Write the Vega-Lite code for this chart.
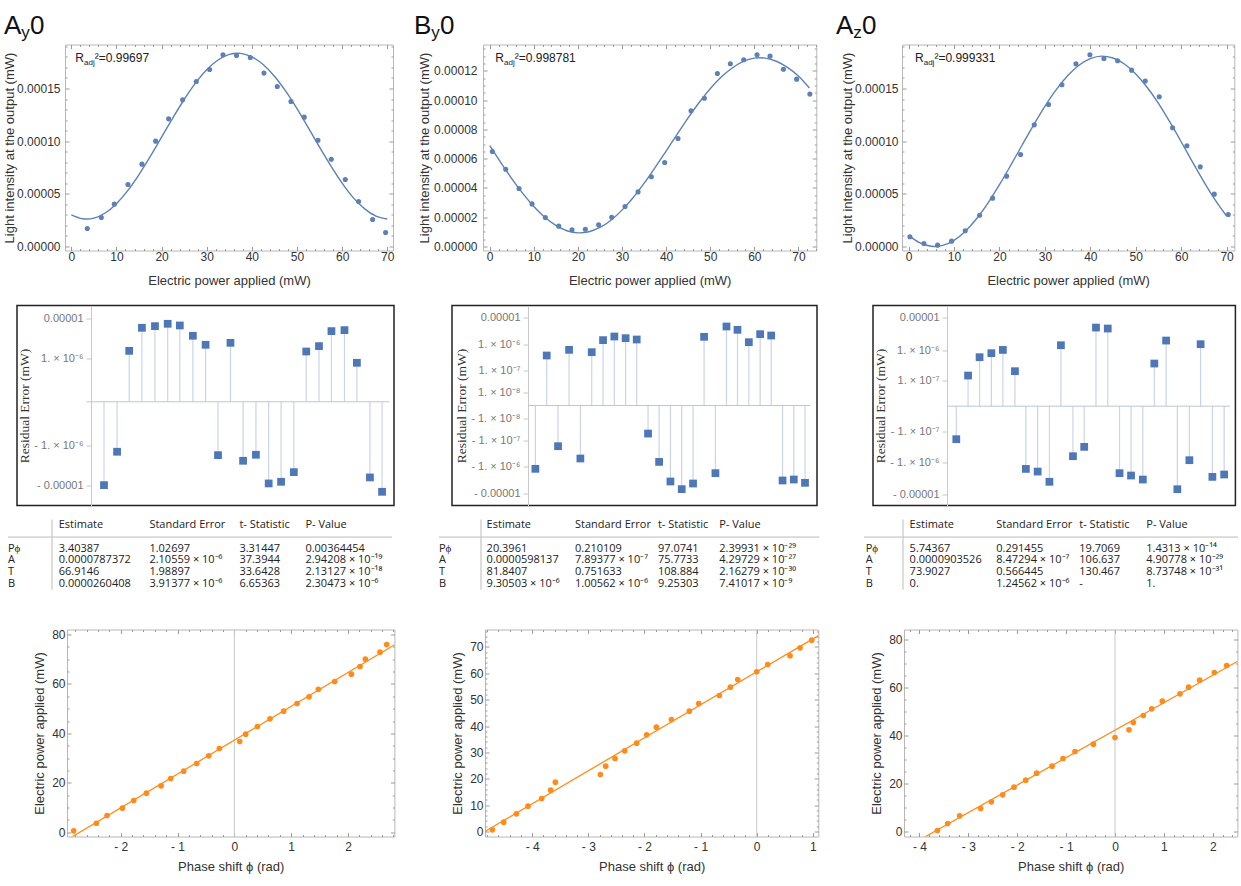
{
  "$schema": "https://vega.github.io/schema/vega-lite/v6.json",
  "background": "white",
  "autosize": {"type": "pad"},
  "padding": {"left": 3, "top": 12.5, "right": 0, "bottom": 0},
  "config": {
    "font": "Liberation Sans",
    "view": {"stroke": null},
    "axis": {"grid": false, "domain": false, "labelOverlap": false, "tickCount": 60, "labelFontSize": 12, "labelColor": "#333333", "titleFontSize": 13, "titleFontWeight": "normal", "titleColor": "#333333", "tickColor": "#9a9a9a", "tickSize": -4, "tickWidth": 1}
  },
  "datasets": {
    "fitA": [
      {"power": 3.54, "intensity": 1.709e-5, "residual": -1.0e-5},
      {"power": 6.65, "intensity": 2.753e-5, "residual": -1.49e-6},
      {"power": 9.53, "intensity": 4.019e-5, "residual": 1.58e-6},
      {"power": 12.55, "intensity": 5.886e-5, "residual": 5.92e-6},
      {"power": 15.65, "intensity": 7.816e-5, "residual": 6.5e-6},
      {"power": 18.68, "intensity": 1.0e-4, "residual": 7.42e-6},
      {"power": 21.56, "intensity": 1.212e-4, "residual": 6.75e-6},
      {"power": 24.66, "intensity": 1.392e-4, "residual": 3.77e-6},
      {"power": 27.69, "intensity": 1.566e-4, "residual": 2.25e-6},
      {"power": 30.64, "intensity": 1.68e-4, "residual": -1.82e-6},
      {"power": 33.6, "intensity": 1.82e-4, "residual": 2.52e-6},
      {"power": 36.6, "intensity": 1.813e-4, "residual": -2.52e-6},
      {"power": 39.65, "intensity": 1.794e-4, "residual": -1.78e-6},
      {"power": 42.68, "intensity": 1.646e-4, "residual": -9.1e-6},
      {"power": 45.63, "intensity": 1.519e-4, "residual": -8.29e-6},
      {"power": 48.66, "intensity": 1.377e-4, "residual": -4.82e-6},
      {"power": 51.61, "intensity": 1.228e-4, "residual": 1.52e-6},
      {"power": 54.64, "intensity": 1.009e-4, "residual": 2.08e-6},
      {"power": 57.6, "intensity": 8.29e-5, "residual": 4.91e-6},
      {"power": 60.7, "intensity": 6.36e-5, "residual": 5.19e-6},
      {"power": 63.65, "intensity": 4.27e-5, "residual": 7.67e-7},
      {"power": 66.75, "intensity": 2.56e-5, "residual": -6.5e-6},
      {"power": 69.63, "intensity": 1.33e-5, "residual": -1.45e-5}
    ],
    "curveA": [
      {"power": 0, "intensity": 3.003e-5}, {"power": 2.5, "intensity": 2.632e-5}, {"power": 3.4, "intensity": 2.604e-5},
      {"power": 5, "intensity": 2.692e-5}, {"power": 7.5, "intensity": 3.18e-5}, {"power": 10, "intensity": 4.067e-5},
      {"power": 12.5, "intensity": 5.306e-5}, {"power": 15, "intensity": 6.833e-5}, {"power": 17.5, "intensity": 8.55e-5},
      {"power": 20, "intensity": 1.038e-4}, {"power": 22.5, "intensity": 1.2214e-4}, {"power": 25, "intensity": 1.3956e-4},
      {"power": 27.5, "intensity": 1.5503e-4}, {"power": 30, "intensity": 1.6775e-4}, {"power": 32.5, "intensity": 1.7702e-4},
      {"power": 35, "intensity": 1.8236e-4}, {"power": 36.86, "intensity": 1.8352e-4}, {"power": 37.5, "intensity": 1.8337e-4},
      {"power": 40, "intensity": 1.8003e-4}, {"power": 42.5, "intensity": 1.7273e-4}, {"power": 45, "intensity": 1.6164e-4},
      {"power": 47.5, "intensity": 1.475e-4}, {"power": 50, "intensity": 1.3096e-4}, {"power": 52.5, "intensity": 1.1287e-4},
      {"power": 55, "intensity": 9.433e-5}, {"power": 57.5, "intensity": 7.657e-5}, {"power": 60, "intensity": 6.02e-5},
      {"power": 62.5, "intensity": 4.617e-5}, {"power": 65, "intensity": 3.57e-5}, {"power": 67.5, "intensity": 2.88e-5},
      {"power": 70, "intensity": 2.606e-5}
    ],
    "fitB": [
      {"power": 0.6, "intensity": 6.49e-5, "residual": -1.18e-6},
      {"power": 3.63, "intensity": 5.28e-5, "residual": 3.7e-7},
      {"power": 6.65, "intensity": 3.96e-5, "residual": -1.63e-7},
      {"power": 9.6, "intensity": 2.91e-5, "residual": 6.07e-7},
      {"power": 12.62, "intensity": 1.98e-5, "residual": -4.81e-7},
      {"power": 15.65, "intensity": 1.39e-5, "residual": 4.95e-7},
      {"power": 18.67, "intensity": 1.14e-5, "residual": 1.41e-6},
      {"power": 21.69, "intensity": 1.18e-5, "residual": 1.93e-6},
      {"power": 24.7, "intensity": 1.48e-5, "residual": 1.67e-6},
      {"power": 27.66, "intensity": 2.0e-5, "residual": 1.49e-6},
      {"power": 30.69, "intensity": 2.73e-5, "residual": -5.15e-8},
      {"power": 33.64, "intensity": 3.73e-5, "residual": -6.48e-7},
      {"power": 36.66, "intensity": 4.76e-5, "residual": -3.54e-6},
      {"power": 39.68, "intensity": 5.74e-5, "residual": -6.86e-6},
      {"power": 42.7, "intensity": 7.38e-5, "residual": -4.21e-6},
      {"power": 45.65, "intensity": 9.27e-5, "residual": 1.88e-6},
      {"power": 48.68, "intensity": 1.013e-4, "residual": -1.72e-6},
      {"power": 51.63, "intensity": 1.182e-4, "residual": 4.59e-6},
      {"power": 54.57, "intensity": 1.248e-4, "residual": 3.44e-6},
      {"power": 57.6, "intensity": 1.275e-4, "residual": 1.18e-6},
      {"power": 60.62, "intensity": 1.309e-4, "residual": 2.36e-6},
      {"power": 63.57, "intensity": 1.3e-4, "residual": 2.1e-6},
      {"power": 66.6, "intensity": 1.211e-4, "residual": -3.24e-6},
      {"power": 69.6, "intensity": 1.143e-4, "residual": -2.98e-6},
      {"power": 72.6, "intensity": 1.041e-4, "residual": -3.97e-6}
    ],
    "curveB": [
      {"power": 0, "intensity": 6.882e-5}, {"power": 2.5, "intensity": 5.742e-5}, {"power": 5, "intensity": 4.64e-5},
      {"power": 7.5, "intensity": 3.63e-5}, {"power": 10, "intensity": 2.736e-5}, {"power": 12.5, "intensity": 1.996e-5},
      {"power": 15, "intensity": 1.437e-5}, {"power": 17.5, "intensity": 1.078e-5}, {"power": 20, "intensity": 9.33e-6},
      {"power": 20.4, "intensity": 9.31e-6}, {"power": 22.5, "intensity": 1.009e-5}, {"power": 25, "intensity": 1.3e-5},
      {"power": 27.5, "intensity": 1.798e-5}, {"power": 30, "intensity": 2.484e-5}, {"power": 32.5, "intensity": 3.332e-5},
      {"power": 35, "intensity": 4.311e-5}, {"power": 37.5, "intensity": 5.387e-5}, {"power": 40, "intensity": 6.519e-5},
      {"power": 42.5, "intensity": 7.664e-5}, {"power": 45, "intensity": 8.786e-5}, {"power": 47.5, "intensity": 9.833e-5},
      {"power": 50, "intensity": 1.0778e-4}, {"power": 52.5, "intensity": 1.1574e-4}, {"power": 55, "intensity": 1.2193e-4},
      {"power": 57.5, "intensity": 1.2638e-4}, {"power": 60, "intensity": 1.2863e-4}, {"power": 61.3, "intensity": 1.2893e-4},
      {"power": 62.5, "intensity": 1.2868e-4}, {"power": 65, "intensity": 1.2653e-4}, {"power": 67.5, "intensity": 1.2232e-4},
      {"power": 70, "intensity": 1.1645e-4}, {"power": 72.5, "intensity": 1.0822e-4}
    ],
    "fitAz": [
      {"power": 0.29, "intensity": 9.2e-6, "residual": -1.84e-7},
      {"power": 3.37, "intensity": 2.8e-6, "residual": 1.53e-7},
      {"power": 6.38, "intensity": 1.3e-6, "residual": 6.09e-7},
      {"power": 9.46, "intensity": 5.1e-6, "residual": 8.14e-7},
      {"power": 12.47, "intensity": 1.49e-5, "residual": 1.03e-6},
      {"power": 15.63, "intensity": 2.97e-5, "residual": 2.15e-7},
      {"power": 18.49, "intensity": 4.59e-5, "residual": -1.63e-6},
      {"power": 21.57, "intensity": 6.68e-5, "residual": -1.97e-6},
      {"power": 24.65, "intensity": 8.73e-5, "residual": -4.07e-6},
      {"power": 27.66, "intensity": 1.155e-4, "residual": 1.44e-6},
      {"power": 30.81, "intensity": 1.348e-4, "residual": -6.55e-7},
      {"power": 33.75, "intensity": 1.535e-4, "residual": -3.3e-7},
      {"power": 36.83, "intensity": 1.734e-4, "residual": 5.04e-6},
      {"power": 39.91, "intensity": 1.82e-4, "residual": 4.71e-6},
      {"power": 42.99, "intensity": 1.785e-4, "residual": -2.21e-6},
      {"power": 46.0, "intensity": 1.763e-4, "residual": -2.61e-6},
      {"power": 49.08, "intensity": 1.674e-4, "residual": -3.47e-6},
      {"power": 52.09, "intensity": 1.57e-4, "residual": 3.83e-7},
      {"power": 55.17, "intensity": 1.421e-4, "residual": 2.01e-6},
      {"power": 58.11, "intensity": 1.127e-4, "residual": -6.87e-6},
      {"power": 61.26, "intensity": 9.56e-5, "residual": -8.74e-7},
      {"power": 64.2, "intensity": 7.56e-5, "residual": 1.55e-6},
      {"power": 67.28, "intensity": 4.97e-5, "residual": -2.87e-6},
      {"power": 70.36, "intensity": 3.04e-5, "residual": -2.43e-6}
    ],
    "curveAz": [
      {"power": 0, "intensity": 1.056e-5}, {"power": 2.5, "intensity": 3.414e-6}, {"power": 5, "intensity": 1.81e-7},
      {"power": 5.74, "intensity": 0}, {"power": 7.5, "intensity": 1.006e-6}, {"power": 10, "intensity": 5.851e-6},
      {"power": 12.5, "intensity": 1.4503e-5}, {"power": 15, "intensity": 2.6565e-5}, {"power": 17.5, "intensity": 4.1499e-5},
      {"power": 20, "intensity": 5.8649e-5}, {"power": 22.5, "intensity": 7.7203e-5}, {"power": 25, "intensity": 9.6345e-5},
      {"power": 27.5, "intensity": 1.15237e-4}, {"power": 30, "intensity": 1.3301e-4}, {"power": 32.5, "intensity": 1.48857e-4},
      {"power": 35, "intensity": 1.62077e-4}, {"power": 37.5, "intensity": 1.72032e-4}, {"power": 40, "intensity": 1.78298e-4},
      {"power": 42.5, "intensity": 1.80693e-4}, {"power": 45, "intensity": 1.7897e-4}, {"power": 47.5, "intensity": 1.73254e-4},
      {"power": 50, "intensity": 1.6384e-4}, {"power": 52.5, "intensity": 1.51175e-4}, {"power": 55, "intensity": 1.35866e-4},
      {"power": 57.5, "intensity": 1.18214e-4}, {"power": 60, "intensity": 9.9424e-5}, {"power": 62.5, "intensity": 8.0115e-5},
      {"power": 65, "intensity": 6.1415e-5}, {"power": 67.5, "intensity": 4.4077e-5}, {"power": 70, "intensity": 2.8952e-5}
    ],
    "tabA": [
      {"param": "hdr", "est": "Estimate", "se": "Standard Error", "t": "t- Statistic", "p": "P- Value"},
      {"param": "Pϕ", "est": "3.40387", "se": "1.02697", "t": "3.31447", "p": "0.00364454"},
      {"param": "A", "est": "0.0000787372", "se": "2.10559 × 10⁻⁶", "t": "37.3944", "p": "2.94208 × 10⁻¹⁹"},
      {"param": "T", "est": "66.9146", "se": "1.98897", "t": "33.6428", "p": "2.13127 × 10⁻¹⁸"},
      {"param": "B", "est": "0.0000260408", "se": "3.91377 × 10⁻⁶", "t": "6.65363", "p": "2.30473 × 10⁻⁶"}
    ],
    "tabB": [
      {"param": "hdr", "est": "Estimate", "se": "Standard Error", "t": "t- Statistic", "p": "P- Value"},
      {"param": "Pϕ", "est": "20.3961", "se": "0.210109", "t": "97.0741", "p": "2.39931 × 10⁻²⁹"},
      {"param": "A", "est": "0.0000598137", "se": "7.89377 × 10⁻⁷", "t": "75.7733", "p": "4.29729 × 10⁻²⁷"},
      {"param": "T", "est": "81.8407", "se": "0.751633", "t": "108.884", "p": "2.16279 × 10⁻³⁰"},
      {"param": "B", "est": "9.30503 × 10⁻⁶", "se": "1.00562 × 10⁻⁶", "t": "9.25303", "p": "7.41017 × 10⁻⁹"}
    ],
    "tabAz": [
      {"param": "hdr", "est": "Estimate", "se": "Standard Error", "t": "t- Statistic", "p": "P- Value"},
      {"param": "Pϕ", "est": "5.74367", "se": "0.291455", "t": "19.7069", "p": "1.4313 × 10⁻¹⁴"},
      {"param": "A", "est": "0.0000903526", "se": "8.47294 × 10⁻⁷", "t": "106.637", "p": "4.90778 × 10⁻²⁹"},
      {"param": "T", "est": "73.9027", "se": "0.566445", "t": "130.467", "p": "8.73748 × 10⁻³¹"},
      {"param": "B", "est": "0.", "se": "1.24562 × 10⁻⁶", "t": "-", "p": "1."}
    ],
    "phA": [
      {"phase": -2.827, "power": 0.54}, {"phase": -2.428, "power": 3.64}, {"phase": -2.24, "power": 6.75},
      {"phase": -1.971, "power": 9.72}, {"phase": -1.771, "power": 12.82}, {"phase": -1.548, "power": 15.79},
      {"phase": -1.29, "power": 18.76}, {"phase": -1.12, "power": 21.73}, {"phase": -0.891, "power": 24.7},
      {"phase": -0.663, "power": 27.8}, {"phase": -0.452, "power": 30.9}, {"phase": -0.264, "power": 33.87},
      {"phase": 0.094, "power": 36.71}, {"phase": 0.199, "power": 39.68}, {"phase": 0.405, "power": 42.78},
      {"phase": 0.628, "power": 45.88}, {"phase": 0.868, "power": 48.99}, {"phase": 1.103, "power": 52.09},
      {"phase": 1.314, "power": 54.79}, {"phase": 1.478, "power": 57.89}, {"phase": 1.765, "power": 61.0},
      {"phase": 2.059, "power": 63.97}, {"phase": 2.211, "power": 67.07}, {"phase": 2.305, "power": 70.04},
      {"phase": 2.563, "power": 72.87}, {"phase": 2.68, "power": 75.98}
    ],
    "lineA": [{"phase": -2.95, "power": -3.16}, {"phase": 2.82, "power": 75.88}],
    "phB": [
      {"phase": -4.709, "power": 0.63}, {"phase": -4.507, "power": 3.54}, {"phase": -4.281, "power": 6.7},
      {"phase": -4.074, "power": 9.61}, {"phase": -3.83, "power": 12.52}, {"phase": -3.67, "power": 15.68},
      {"phase": -3.587, "power": 18.71}, {"phase": -2.785, "power": 21.62}, {"phase": -2.69, "power": 24.78},
      {"phase": -2.524, "power": 27.69}, {"phase": -2.352, "power": 30.59}, {"phase": -2.138, "power": 33.5},
      {"phase": -1.96, "power": 36.66}, {"phase": -1.787, "power": 39.57}, {"phase": -1.52, "power": 42.48},
      {"phase": -1.2, "power": 45.64}, {"phase": -1.033, "power": 48.55}, {"phase": -0.665, "power": 51.58},
      {"phase": -0.469, "power": 54.74}, {"phase": -0.338, "power": 57.65}, {"phase": 0.0, "power": 60.56},
      {"phase": 0.196, "power": 63.34}, {"phase": 0.594, "power": 66.63}, {"phase": 0.772, "power": 69.66},
      {"phase": 0.98, "power": 72.57}
    ],
    "lineB": [{"phase": -4.84, "power": 0.0}, {"phase": 1.1, "power": 74.3}],
    "phAz": [
      {"phase": -3.633, "power": 0.42}, {"phase": -3.422, "power": 3.33}, {"phase": -3.177, "power": 6.53},
      {"phase": -2.747, "power": 9.58}, {"phase": -2.529, "power": 12.36}, {"phase": -2.297, "power": 15.28},
      {"phase": -2.065, "power": 18.47}, {"phase": -1.827, "power": 21.39}, {"phase": -1.602, "power": 24.31},
      {"phase": -1.288, "power": 27.22}, {"phase": -1.063, "power": 30.42}, {"phase": -0.818, "power": 33.33},
      {"phase": -0.443, "power": 36.39}, {"phase": 0.0, "power": 39.17}, {"phase": 0.286, "power": 42.36},
      {"phase": 0.375, "power": 45.42}, {"phase": 0.579, "power": 48.33}, {"phase": 0.75, "power": 51.11},
      {"phase": 0.968, "power": 54.31}, {"phase": 1.329, "power": 57.36}, {"phase": 1.506, "power": 60.14},
      {"phase": 1.731, "power": 63.06}, {"phase": 2.031, "power": 66.25}, {"phase": 2.284, "power": 69.17}
    ],
    "lineAz": [{"phase": -3.9, "power": -2.4}, {"phase": 2.5, "power": 70.83}]
  },
  "spacing": 0,
  "bounds": "full",
  "vconcat": [
    {
      "spacing": 0,
      "bounds": "flush",
      "hconcat": [
        {"width": 57, "height": 260, "data": {"values": []}, "mark": "point", "view": {"stroke": null}},
        {
          "width": 328, "height": 206, "view": {"stroke": "#b8b8b8"},
          "resolve": {"axis": {"x": "independent", "y": "independent"}},
          "layer": [
            {"data": {"name": "curveA"}, "mark": {"type": "line", "color": "#5E81B5", "strokeWidth": 1.4, "interpolate": "monotone"},
             "encoding": {
               "x": {"field": "power", "type": "quantitative", "scale": {"domain": [-1.4, 71.27], "nice": false, "zero": false},
                     "axis": {"values": [0, 2, 4, 6, 8, 10, 12, 14, 16, 18, 20, 22, 24, 26, 28, 30, 32, 34, 36, 38, 40, 42, 44, 46, 48, 50, 52, 54, 56, 58, 60, 62, 64, 66, 68, 70],
                              "labelExpr": "datum.value % 10 === 0 ? datum.label : ''", "tickSize": {"condition": {"test": "datum.value % 10 === 0", "value": -4}, "value": -2},
                              "title": "Electric power applied (mW)", "labelPadding": 5, "titlePadding": 10}},
               "y": {"field": "intensity", "type": "quantitative", "scale": {"domain": [-0.0000038, 0.00019177], "nice": false, "zero": false},
                     "axis": {"values": [0, 0.00001, 0.00002, 0.00003, 0.00004, 0.00005, 0.00006, 0.00007, 0.00008, 0.00009, 0.0001, 0.00011, 0.00012, 0.00013, 0.00014, 0.00015, 0.00016, 0.00017, 0.00018, 0.00019],
                              "format": ".5f", "labelExpr": "round(datum.value * 100000) % 5 === 0 ? datum.label : ''", "tickSize": {"condition": {"test": "round(datum.value * 100000) % 5 === 0", "value": -4}, "value": -2},
                              "title": "Light intensity at the output (mW)", "labelPadding": 9, "titlePadding": 0}}}},
            {"data": {"name": "fitA"}, "mark": {"type": "circle", "size": 26, "color": "#5E81B5", "opacity": 1},
             "encoding": {"x": {"field": "power", "type": "quantitative", "axis": null}, "y": {"field": "intensity", "type": "quantitative", "axis": null}}},
            {"data": {"values": [{"r": "R", "sub": "adj", "rest": "²=0.99697"}]},
             "encoding": {"x": {"datum": 0.886, "type": "quantitative", "axis": null}, "y": {"datum": 0.00017535, "type": "quantitative", "axis": null}},
             "layer": [
               {"mark": {"type": "text", "align": "left", "baseline": "alphabetic", "fontSize": 12, "color": "#222222"}, "encoding": {"text": {"field": "r"}}},
               {"mark": {"type": "text", "align": "left", "baseline": "alphabetic", "fontSize": 8, "dx": 8.7, "dy": 3, "color": "#222222"}, "encoding": {"text": {"field": "sub"}}},
               {"mark": {"type": "text", "align": "left", "baseline": "alphabetic", "fontSize": 12, "dx": 19.4, "color": "#222222"}, "encoding": {"text": {"field": "rest"}}}
             ]},
            {"data": {"values": [{"main": "A", "sub": "y", "tail": "0"}]},
             "encoding": {"x": {"datum": -14.91, "type": "quantitative", "axis": null}, "y": {"datum": 0.00020155, "type": "quantitative", "axis": null}},
             "layer": [
               {"mark": {"type": "text", "align": "left", "baseline": "alphabetic", "fontSize": 26, "color": "#111111"}, "encoding": {"text": {"field": "main"}}},
               {"mark": {"type": "text", "align": "left", "baseline": "alphabetic", "fontSize": 17, "dx": 17.3, "dy": 4, "color": "#111111"}, "encoding": {"text": {"field": "sub"}}},
               {"mark": {"type": "text", "align": "left", "baseline": "alphabetic", "fontSize": 26, "dx": 26, "color": "#111111"}, "encoding": {"text": {"field": "tail"}}}
             ]},
            {"data": {"values": [{}]}, "mark": {"type": "point", "opacity": 0},
             "encoding": {
               "x": {"datum": 0, "type": "quantitative", "axis": {"orient": "top", "labels": false, "title": null,
                     "values": [0, 2, 4, 6, 8, 10, 12, 14, 16, 18, 20, 22, 24, 26, 28, 30, 32, 34, 36, 38, 40, 42, 44, 46, 48, 50, 52, 54, 56, 58, 60, 62, 64, 66, 68, 70],
                     "tickSize": {"condition": {"test": "datum.value % 10 === 0", "value": -4}, "value": -2}}},
               "y": {"datum": 0, "type": "quantitative", "axis": {"orient": "right", "labels": false, "title": null,
                     "values": [0, 0.00001, 0.00002, 0.00003, 0.00004, 0.00005, 0.00006, 0.00007, 0.00008, 0.00009, 0.0001, 0.00011, 0.00012, 0.00013, 0.00014, 0.00015, 0.00016, 0.00017, 0.00018, 0.00019],
                     "tickSize": {"condition": {"test": "round(datum.value * 100000) % 5 === 0", "value": -4}, "value": -2}}}}}
          ]
        },
        {"width": 90, "height": 260, "data": {"values": []}, "mark": "point", "view": {"stroke": null}},
        {
          "width": 333.3, "height": 206, "view": {"stroke": "#b8b8b8"},
          "resolve": {"axis": {"x": "independent", "y": "independent"}},
          "layer": [
            {"data": {"name": "curveB"}, "mark": {"type": "line", "color": "#5E81B5", "strokeWidth": 1.4, "interpolate": "monotone"},
             "encoding": {
               "x": {"field": "power", "type": "quantitative", "scale": {"domain": [-1.52, 74.06], "nice": false, "zero": false},
                     "axis": {"values": [0, 2, 4, 6, 8, 10, 12, 14, 16, 18, 20, 22, 24, 26, 28, 30, 32, 34, 36, 38, 40, 42, 44, 46, 48, 50, 52, 54, 56, 58, 60, 62, 64, 66, 68, 70, 72, 74],
                              "labelExpr": "datum.value % 10 === 0 ? datum.label : ''", "tickSize": {"condition": {"test": "datum.value % 10 === 0", "value": -4}, "value": -2},
                              "title": "Electric power applied (mW)", "labelPadding": 5, "titlePadding": 10}},
               "y": {"field": "intensity", "type": "quantitative", "scale": {"domain": [-0.00000273, 0.00013796], "nice": false, "zero": false},
                     "axis": {"values": [0, 0.000005, 0.00001, 0.000015, 0.00002, 0.000025, 0.00003, 0.000035, 0.00004, 0.000045, 0.00005, 0.000055, 0.00006, 0.000065, 0.00007, 0.000075, 0.00008, 0.000085, 0.00009, 0.000095, 0.0001, 0.000105, 0.00011, 0.000115, 0.00012, 0.000125, 0.00013, 0.000135],
                              "format": ".5f", "labelExpr": "round(datum.value * 200000) % 4 === 0 ? datum.label : ''", "tickSize": {"condition": {"test": "round(datum.value * 200000) % 4 === 0", "value": -4}, "value": -2},
                              "title": "Light intensity at the output (mW)", "labelPadding": 10, "titlePadding": 2}}}},
            {"data": {"name": "fitB"}, "mark": {"type": "circle", "size": 26, "color": "#5E81B5", "opacity": 1},
             "encoding": {"x": {"field": "power", "type": "quantitative", "axis": null}, "y": {"field": "intensity", "type": "quantitative", "axis": null}}},
            {"data": {"values": [{"r": "R", "sub": "adj", "rest": "²=0.998781"}]},
             "encoding": {"x": {"datum": 1.27, "type": "quantitative", "axis": null}, "y": {"datum": 0.00012615, "type": "quantitative", "axis": null}},
             "layer": [
               {"mark": {"type": "text", "align": "left", "baseline": "alphabetic", "fontSize": 12, "color": "#222222"}, "encoding": {"text": {"field": "r"}}},
               {"mark": {"type": "text", "align": "left", "baseline": "alphabetic", "fontSize": 8, "dx": 8.7, "dy": 3, "color": "#222222"}, "encoding": {"text": {"field": "sub"}}},
               {"mark": {"type": "text", "align": "left", "baseline": "alphabetic", "fontSize": 12, "dx": 19.4, "color": "#222222"}, "encoding": {"text": {"field": "rest"}}}
             ]},
            {"data": {"values": [{"main": "B", "sub": "y", "tail": "0"}]},
             "encoding": {"x": {"datum": -17.17, "type": "quantitative", "axis": null}, "y": {"datum": 0.000145, "type": "quantitative", "axis": null}},
             "layer": [
               {"mark": {"type": "text", "align": "left", "baseline": "alphabetic", "fontSize": 26, "color": "#111111"}, "encoding": {"text": {"field": "main"}}},
               {"mark": {"type": "text", "align": "left", "baseline": "alphabetic", "fontSize": 17, "dx": 17.3, "dy": 4, "color": "#111111"}, "encoding": {"text": {"field": "sub"}}},
               {"mark": {"type": "text", "align": "left", "baseline": "alphabetic", "fontSize": 26, "dx": 26, "color": "#111111"}, "encoding": {"text": {"field": "tail"}}}
             ]},
            {"data": {"values": [{}]}, "mark": {"type": "point", "opacity": 0},
             "encoding": {
               "x": {"datum": 0, "type": "quantitative", "axis": {"orient": "top", "labels": false, "title": null,
                     "values": [0, 2, 4, 6, 8, 10, 12, 14, 16, 18, 20, 22, 24, 26, 28, 30, 32, 34, 36, 38, 40, 42, 44, 46, 48, 50, 52, 54, 56, 58, 60, 62, 64, 66, 68, 70, 72, 74],
                     "tickSize": {"condition": {"test": "datum.value % 10 === 0", "value": -4}, "value": -2}}},
               "y": {"datum": 0, "type": "quantitative", "axis": {"orient": "right", "labels": false, "title": null,
                     "values": [0, 0.000005, 0.00001, 0.000015, 0.00002, 0.000025, 0.00003, 0.000035, 0.00004, 0.000045, 0.00005, 0.000055, 0.00006, 0.000065, 0.00007, 0.000075, 0.00008, 0.000085, 0.00009, 0.000095, 0.0001, 0.000105, 0.00011, 0.000115, 0.00012, 0.000125, 0.00013, 0.000135],
                     "tickSize": {"condition": {"test": "round(datum.value * 200000) % 4 === 0", "value": -4}, "value": -2}}}}}
          ]
        },
        {"width": 84.4, "height": 260, "data": {"values": []}, "mark": "point", "view": {"stroke": null}},
        {
          "width": 332.3, "height": 206, "view": {"stroke": "#b8b8b8"},
          "resolve": {"axis": {"x": "independent", "y": "independent"}},
          "layer": [
            {"data": {"name": "curveAz"}, "mark": {"type": "line", "color": "#5E81B5", "strokeWidth": 1.4, "interpolate": "monotone"},
             "encoding": {
               "x": {"field": "power", "type": "quantitative", "scale": {"domain": [-1.45, 71.69], "nice": false, "zero": false},
                     "axis": {"values": [0, 2, 4, 6, 8, 10, 12, 14, 16, 18, 20, 22, 24, 26, 28, 30, 32, 34, 36, 38, 40, 42, 44, 46, 48, 50, 52, 54, 56, 58, 60, 62, 64, 66, 68, 70],
                              "labelExpr": "datum.value % 10 === 0 ? datum.label : ''", "tickSize": {"condition": {"test": "datum.value % 10 === 0", "value": -4}, "value": -2},
                              "title": "Electric power applied (mW)", "labelPadding": 5, "titlePadding": 10}},
               "y": {"field": "intensity", "type": "quantitative", "scale": {"domain": [-0.0000038, 0.00019177], "nice": false, "zero": false},
                     "axis": {"values": [0, 0.00001, 0.00002, 0.00003, 0.00004, 0.00005, 0.00006, 0.00007, 0.00008, 0.00009, 0.0001, 0.00011, 0.00012, 0.00013, 0.00014, 0.00015, 0.00016, 0.00017, 0.00018, 0.00019],
                              "format": ".5f", "labelExpr": "round(datum.value * 100000) % 5 === 0 ? datum.label : ''", "tickSize": {"condition": {"test": "round(datum.value * 100000) % 5 === 0", "value": -4}, "value": -2},
                              "title": "Light intensity at the output (mW)", "labelPadding": 8, "titlePadding": 0}}}},
            {"data": {"name": "fitAz"}, "mark": {"type": "circle", "size": 26, "color": "#5E81B5", "opacity": 1},
             "encoding": {"x": {"field": "power", "type": "quantitative", "axis": null}, "y": {"field": "intensity", "type": "quantitative", "axis": null}}},
            {"data": {"values": [{"r": "R", "sub": "adj", "rest": "²=0.999331"}]},
             "encoding": {"x": {"datum": 1.41, "type": "quantitative", "axis": null}, "y": {"datum": 0.00017535, "type": "quantitative", "axis": null}},
             "layer": [
               {"mark": {"type": "text", "align": "left", "baseline": "alphabetic", "fontSize": 12, "color": "#222222"}, "encoding": {"text": {"field": "r"}}},
               {"mark": {"type": "text", "align": "left", "baseline": "alphabetic", "fontSize": 8, "dx": 8.7, "dy": 3, "color": "#222222"}, "encoding": {"text": {"field": "sub"}}},
               {"mark": {"type": "text", "align": "left", "baseline": "alphabetic", "fontSize": 12, "dx": 19.4, "color": "#222222"}, "encoding": {"text": {"field": "rest"}}}
             ]},
            {"data": {"values": [{"main": "A", "sub": "z", "tail": "0"}]},
             "encoding": {"x": {"datum": -15.98, "type": "quantitative", "axis": null}, "y": {"datum": 0.00020155, "type": "quantitative", "axis": null}},
             "layer": [
               {"mark": {"type": "text", "align": "left", "baseline": "alphabetic", "fontSize": 26, "color": "#111111"}, "encoding": {"text": {"field": "main"}}},
               {"mark": {"type": "text", "align": "left", "baseline": "alphabetic", "fontSize": 17, "dx": 17.3, "dy": 4, "color": "#111111"}, "encoding": {"text": {"field": "sub"}}},
               {"mark": {"type": "text", "align": "left", "baseline": "alphabetic", "fontSize": 26, "dx": 26, "color": "#111111"}, "encoding": {"text": {"field": "tail"}}}
             ]},
            {"data": {"values": [{}]}, "mark": {"type": "point", "opacity": 0},
             "encoding": {
               "x": {"datum": 0, "type": "quantitative", "axis": {"orient": "top", "labels": false, "title": null,
                     "values": [0, 2, 4, 6, 8, 10, 12, 14, 16, 18, 20, 22, 24, 26, 28, 30, 32, 34, 36, 38, 40, 42, 44, 46, 48, 50, 52, 54, 56, 58, 60, 62, 64, 66, 68, 70],
                     "tickSize": {"condition": {"test": "datum.value % 10 === 0", "value": -4}, "value": -2}}},
               "y": {"datum": 0, "type": "quantitative", "axis": {"orient": "right", "labels": false, "title": null,
                     "values": [0, 0.00001, 0.00002, 0.00003, 0.00004, 0.00005, 0.00006, 0.00007, 0.00008, 0.00009, 0.0001, 0.00011, 0.00012, 0.00013, 0.00014, 0.00015, 0.00016, 0.00017, 0.00018, 0.00019],
                     "tickSize": {"condition": {"test": "round(datum.value * 100000) % 5 === 0", "value": -4}, "value": -2}}}}}
          ]
        }
      ]
    },
    {
      "spacing": 0,
      "bounds": "flush",
      "hconcat": [
        {"width": 8.3, "height": 212.45, "data": {"values": []}, "mark": "point", "view": {"stroke": null}},
        {
          "width": 377, "height": 200, "view": {"stroke": "#222222", "strokeWidth": 1.5},
          "data": {"name": "fitA"},
          "layer": [
            {"mark": {"type": "rule", "color": "#c9d5e8", "strokeWidth": 1.2},
             "encoding": {
               "x": {"field": "power", "type": "quantitative", "scale": {"domain": [-17.14, 72.47], "nice": false, "zero": false}, "axis": null},
               "y": {"field": "residual", "type": "quantitative", "scale": {"type": "symlog", "constant": 1e-7, "domain": [-0.0000311, 0.0000206], "nice": false, "zero": false},
                     "axis": {"orient": "left", "offset": -74, "values": [0.00001, 0.000001, -0.000001, -0.00001], "labelOverlap": false,
                              "labelExpr": "(datum.value < 0 ? '- ' : '') + (abs(datum.value) > 0.000005 ? '0.00001' : '1. × 10⁻⁶')",
                              "domain": true, "domainColor": "#c8c8c8", "tickSize": 5, "tickColor": "#c8c8c8", "labelPadding": 3, "labelFontSize": 11, "labelColor": "#777777",
                              "title": "Residual Error (mW)", "titleFont": "Liberation Serif", "titleFontSize": 13.5, "titleColor": "#333333", "titlePadding": 2}},
               "y2": {"datum": 0}}},
            {"data": {"values": [{}]}, "mark": {"type": "rule", "color": "#bcc6d6", "strokeWidth": 1},
             "encoding": {"x": {"datum": -0.67, "type": "quantitative"}, "x2": {"datum": 71.4}, "y": {"datum": 0, "type": "quantitative"}}},
            {"mark": {"type": "square", "size": 60, "color": "#4D77B6", "opacity": 1},
             "encoding": {"x": {"field": "power", "type": "quantitative"}, "y": {"field": "residual", "type": "quantitative"}}}
          ]
        },
        {"width": 58, "height": 212.45, "data": {"values": []}, "mark": "point", "view": {"stroke": null}},
        {
          "width": 365, "height": 200, "view": {"stroke": "#222222", "strokeWidth": 1.5},
          "data": {"name": "fitB"},
          "layer": [
            {"mark": {"type": "rule", "color": "#c9d5e8", "strokeWidth": 1.2},
             "encoding": {
               "x": {"field": "power", "type": "quantitative", "scale": {"domain": [-21.66, 75.8], "nice": false, "zero": false}, "axis": null},
               "y": {"field": "residual", "type": "quantitative", "scale": {"type": "symlog", "constant": 5e-9, "domain": [-0.00002815, 0.00002815], "nice": false, "zero": false},
                     "axis": {"orient": "left", "offset": -76, "values": [0.00001, 0.000001, 0.0000001, 0.00000001, -0.00000001, -0.0000001, -0.000001, -0.00001], "labelOverlap": false,
                              "labelExpr": "(datum.value < 0 ? '- ' : '') + (abs(datum.value) > 0.000005 ? '0.00001' : '1. × 10' + ['⁻⁶', '⁻⁷', '⁻⁸'][round(-log(abs(datum.value)) / LN10) - 6])",
                              "domain": true, "domainColor": "#c8c8c8", "tickSize": 5, "tickColor": "#c8c8c8", "labelPadding": 3, "labelFontSize": 11, "labelColor": "#777777",
                              "title": "Residual Error (mW)", "titleFont": "Liberation Serif", "titleFontSize": 13.5, "titleColor": "#333333", "titlePadding": 2}},
               "y2": {"datum": 0}}},
            {"data": {"values": [{}]}, "mark": {"type": "rule", "color": "#bcc6d6", "strokeWidth": 1},
             "encoding": {"x": {"datum": -1.36, "type": "quantitative"}, "x2": {"datum": 74.0}, "y": {"datum": 0, "type": "quantitative"}}},
            {"mark": {"type": "square", "size": 60, "color": "#4D77B6", "opacity": 1},
             "encoding": {"x": {"field": "power", "type": "quantitative"}, "y": {"field": "residual", "type": "quantitative"}}}
          ]
        },
        {"width": 56, "height": 212.45, "data": {"values": []}, "mark": "point", "view": {"stroke": null}},
        {
          "width": 362.4, "height": 200, "view": {"stroke": "#222222", "strokeWidth": 1.5},
          "data": {"name": "fitAz"},
          "layer": [
            {"mark": {"type": "rule", "color": "#c9d5e8", "strokeWidth": 1.2},
             "encoding": {
               "x": {"field": "power", "type": "quantitative", "scale": {"domain": [-21.5, 73.3], "nice": false, "zero": false}, "axis": null},
               "y": {"field": "residual", "type": "quantitative", "scale": {"type": "symlog", "constant": 2e-8, "domain": [-0.00002166, 0.0000239], "nice": false, "zero": false},
                     "axis": {"orient": "left", "offset": -74, "values": [0.00001, 0.000001, 0.0000001, -0.0000001, -0.000001, -0.00001], "labelOverlap": false,
                              "labelExpr": "(datum.value < 0 ? '- ' : '') + (abs(datum.value) > 0.000005 ? '0.00001' : '1. × 10' + ['⁻⁶', '⁻⁷', '⁻⁸'][round(-log(abs(datum.value)) / LN10) - 6])",
                              "domain": true, "domainColor": "#c8c8c8", "tickSize": 5, "tickColor": "#c8c8c8", "labelPadding": 3, "labelFontSize": 11, "labelColor": "#777777",
                              "title": "Residual Error (mW)", "titleFont": "Liberation Serif", "titleFontSize": 13.5, "titleColor": "#333333", "titlePadding": 2}},
               "y2": {"datum": 0}}},
            {"data": {"values": [{}]}, "mark": {"type": "rule", "color": "#bcc6d6", "strokeWidth": 1},
             "encoding": {"x": {"datum": -2.17, "type": "quantitative"}, "x2": {"datum": 71.9}, "y": {"datum": 0, "type": "quantitative"}}},
            {"mark": {"type": "square", "size": 60, "color": "#4D77B6", "opacity": 1},
             "encoding": {"x": {"field": "power", "type": "quantitative"}, "y": {"field": "residual", "type": "quantitative"}}}
          ]
        }
      ]
    },
    {
      "spacing": 0,
      "bounds": "flush",
      "hconcat": [
        {
          "width": 43.3, "height": 70.2, "data": {"name": "tabA"},
          "layer": [
            {"data": {"values": [{}]}, "mark": {"type": "rule", "color": "#bbbbbb", "strokeWidth": 1},
             "encoding": {"y": {"datum": "gap", "type": "nominal", "bandPosition": 0.5, "scale": {"type": "band", "domain": ["hdr", "gap", "Pϕ", "A", "T", "B"], "paddingInner": 0, "paddingOuter": 0}, "axis": null}}},
            {"transform": [{"filter": "datum.param != 'hdr'"}],
             "mark": {"type": "text", "align": "left", "baseline": "middle", "font": "Open Sans", "fontSize": 11, "color": "#222222"},
             "encoding": {"x": {"datum": "lab", "type": "nominal", "bandPosition": 0, "scale": {"type": "band", "domain": ["lab"], "paddingInner": 0, "paddingOuter": 0}, "axis": null},
                          "y": {"field": "param", "type": "nominal", "bandPosition": 0.5}, "text": {"field": "param"}}}
          ]
        },
        {
          "width": 340, "height": 70.2, "data": {"name": "tabA"},
          "encoding": {"y": {"field": "param", "type": "nominal", "bandPosition": 0.5, "scale": {"type": "band", "domain": ["hdr", "gap", "Pϕ", "A", "T", "B"], "paddingInner": 0, "paddingOuter": 0}, "axis": null}},
          "layer": [
            {"data": {"values": [{}]}, "mark": {"type": "rule", "color": "#bbbbbb", "strokeWidth": 1},
             "encoding": {"y": {"datum": "gap", "type": "nominal", "bandPosition": 0.5}}},
            {"data": {"values": [{}]}, "mark": {"type": "rule", "color": "#bbbbbb", "strokeWidth": 1},
             "encoding": {"y": null, "x": {"datum": "est", "type": "nominal", "bandPosition": 0, "scale": {"type": "band", "domain": ["est", "se", "t", "p"], "paddingInner": 0, "paddingOuter": 0}, "axis": null}}},
            {"mark": {"type": "text", "align": "left", "baseline": "middle", "font": "Open Sans", "fontSize": 11, "color": "#222222", "dx": 6.7},
             "encoding": {"x": {"datum": "est", "type": "nominal", "bandPosition": 0}, "text": {"field": "est"}}},
            {"mark": {"type": "text", "align": "left", "baseline": "middle", "font": "Open Sans", "fontSize": 11, "color": "#222222", "dx": 12.4},
             "encoding": {"x": {"datum": "se", "type": "nominal", "bandPosition": 0}, "text": {"field": "se"}}},
            {"mark": {"type": "text", "align": "left", "baseline": "middle", "font": "Open Sans", "fontSize": 11, "color": "#222222", "dx": 17.4},
             "encoding": {"x": {"datum": "t", "type": "nominal", "bandPosition": 0}, "text": {"field": "t"}}},
            {"mark": {"type": "text", "align": "left", "baseline": "middle", "font": "Open Sans", "fontSize": 11, "color": "#222222", "dx": -1.6},
             "encoding": {"x": {"datum": "p", "type": "nominal", "bandPosition": 0}, "text": {"field": "p"}}}
          ]
        },
        {"width": 46.7, "height": 104.5, "data": {"values": []}, "mark": "point", "view": {"stroke": null}},
        {
          "width": 41.7, "height": 70.2, "data": {"name": "tabB"},
          "layer": [
            {"data": {"values": [{}]}, "mark": {"type": "rule", "color": "#bbbbbb", "strokeWidth": 1},
             "encoding": {"y": {"datum": "gap", "type": "nominal", "bandPosition": 0.5, "scale": {"type": "band", "domain": ["hdr", "gap", "Pϕ", "A", "T", "B"], "paddingInner": 0, "paddingOuter": 0}, "axis": null}}},
            {"transform": [{"filter": "datum.param != 'hdr'"}],
             "mark": {"type": "text", "align": "left", "baseline": "middle", "font": "Open Sans", "fontSize": 11, "color": "#222222"},
             "encoding": {"x": {"datum": "lab", "type": "nominal", "bandPosition": 0, "scale": {"type": "band", "domain": ["lab"], "paddingInner": 0, "paddingOuter": 0}, "axis": null},
                          "y": {"field": "param", "type": "nominal", "bandPosition": 0.5}, "text": {"field": "param"}}}
          ]
        },
        {
          "width": 338.3, "height": 70.2, "data": {"name": "tabB"},
          "encoding": {"y": {"field": "param", "type": "nominal", "bandPosition": 0.5, "scale": {"type": "band", "domain": ["hdr", "gap", "Pϕ", "A", "T", "B"], "paddingInner": 0, "paddingOuter": 0}, "axis": null}},
          "layer": [
            {"data": {"values": [{}]}, "mark": {"type": "rule", "color": "#bbbbbb", "strokeWidth": 1},
             "encoding": {"y": {"datum": "gap", "type": "nominal", "bandPosition": 0.5}}},
            {"data": {"values": [{}]}, "mark": {"type": "rule", "color": "#bbbbbb", "strokeWidth": 1},
             "encoding": {"y": null, "x": {"datum": "est", "type": "nominal", "bandPosition": 0, "scale": {"type": "band", "domain": ["est", "se", "t", "p"], "paddingInner": 0, "paddingOuter": 0}, "axis": null}}},
            {"mark": {"type": "text", "align": "left", "baseline": "middle", "font": "Open Sans", "fontSize": 11, "color": "#222222", "dx": 5.6},
             "encoding": {"x": {"datum": "est", "type": "nominal", "bandPosition": 0}, "text": {"field": "est"}}},
            {"mark": {"type": "text", "align": "left", "baseline": "middle", "font": "Open Sans", "fontSize": 11, "color": "#222222", "dx": 9.4},
             "encoding": {"x": {"datum": "se", "type": "nominal", "bandPosition": 0}, "text": {"field": "se"}}},
            {"mark": {"type": "text", "align": "left", "baseline": "middle", "font": "Open Sans", "fontSize": 11, "color": "#222222", "dx": 7.8},
             "encoding": {"x": {"datum": "t", "type": "nominal", "bandPosition": 0}, "text": {"field": "t"}}},
            {"mark": {"type": "text", "align": "left", "baseline": "middle", "font": "Open Sans", "fontSize": 11, "color": "#222222", "dx": -15.5},
             "encoding": {"x": {"datum": "p", "type": "nominal", "bandPosition": 0}, "text": {"field": "p"}}}
          ]
        },
        {"width": 43.3, "height": 104.5, "data": {"values": []}, "mark": "point", "view": {"stroke": null}},
        {
          "width": 38.4, "height": 70.2, "data": {"name": "tabAz"},
          "layer": [
            {"data": {"values": [{}]}, "mark": {"type": "rule", "color": "#bbbbbb", "strokeWidth": 1},
             "encoding": {"y": {"datum": "gap", "type": "nominal", "bandPosition": 0.5, "scale": {"type": "band", "domain": ["hdr", "gap", "Pϕ", "A", "T", "B"], "paddingInner": 0, "paddingOuter": 0}, "axis": null}}},
            {"transform": [{"filter": "datum.param != 'hdr'"}],
             "mark": {"type": "text", "align": "left", "baseline": "middle", "font": "Open Sans", "fontSize": 11, "color": "#222222", "dx": 1.7},
             "encoding": {"x": {"datum": "lab", "type": "nominal", "bandPosition": 0, "scale": {"type": "band", "domain": ["lab"], "paddingInner": 0, "paddingOuter": 0}, "axis": null},
                          "y": {"field": "param", "type": "nominal", "bandPosition": 0.5}, "text": {"field": "param"}}}
          ]
        },
        {
          "width": 335, "height": 70.2, "data": {"name": "tabAz"},
          "encoding": {"y": {"field": "param", "type": "nominal", "bandPosition": 0.5, "scale": {"type": "band", "domain": ["hdr", "gap", "Pϕ", "A", "T", "B"], "paddingInner": 0, "paddingOuter": 0}, "axis": null}},
          "layer": [
            {"data": {"values": [{}]}, "mark": {"type": "rule", "color": "#bbbbbb", "strokeWidth": 1},
             "encoding": {"y": {"datum": "gap", "type": "nominal", "bandPosition": 0.5}}},
            {"data": {"values": [{}]}, "mark": {"type": "rule", "color": "#bbbbbb", "strokeWidth": 1},
             "encoding": {"y": null, "x": {"datum": "est", "type": "nominal", "bandPosition": 0, "scale": {"type": "band", "domain": ["est", "se", "t", "p"], "paddingInner": 0, "paddingOuter": 0}, "axis": null}}},
            {"mark": {"type": "text", "align": "left", "baseline": "middle", "font": "Open Sans", "fontSize": 11, "color": "#222222", "dx": 6.6},
             "encoding": {"x": {"datum": "est", "type": "nominal", "bandPosition": 0}, "text": {"field": "est"}}},
            {"mark": {"type": "text", "align": "left", "baseline": "middle", "font": "Open Sans", "fontSize": 11, "color": "#222222", "dx": 9.55},
             "encoding": {"x": {"datum": "se", "type": "nominal", "bandPosition": 0}, "text": {"field": "se"}}},
            {"mark": {"type": "text", "align": "left", "baseline": "middle", "font": "Open Sans", "fontSize": 11, "color": "#222222", "dx": 8.8},
             "encoding": {"x": {"datum": "t", "type": "nominal", "bandPosition": 0}, "text": {"field": "t"}}},
            {"mark": {"type": "text", "align": "left", "baseline": "middle", "font": "Open Sans", "fontSize": 11, "color": "#222222", "dx": -7.95},
             "encoding": {"x": {"datum": "p", "type": "nominal", "bandPosition": 0}, "text": {"field": "p"}}}
          ]
        }
      ]
    },
    {
      "spacing": 0,
      "bounds": "flush",
      "hconcat": [
        {"width": 58.3, "height": 1, "data": {"values": []}, "mark": "point", "view": {"stroke": null}},
        {
          "width": 327.4, "height": 207, "view": {"stroke": "#b8b8b8"},
          "resolve": {"axis": {"x": "independent", "y": "independent"}},
          "layer": [
            {"data": {"values": [{}]}, "mark": {"type": "rule", "color": "#c8c8c8", "strokeWidth": 1},
             "encoding": {"x": {"datum": 0, "type": "quantitative", "scale": {"domain": [-2.945, 2.816], "nice": false, "zero": false},
                                "axis": {"values": [-2.8, -2.6, -2.4, -2.2, -2, -1.8, -1.6, -1.4, -1.2, -1, -0.8, -0.6, -0.4, -0.2, 0, 0.2, 0.4, 0.6, 0.8, 1, 1.2, 1.4, 1.6, 1.8, 2, 2.2, 2.4, 2.6, 2.8],
                                         "labelExpr": "abs(datum.value - round(datum.value)) < 0.001 ? (round(datum.value) < 0 ? '- ' + abs(round(datum.value)) : '' + round(datum.value)) : ''",
                                         "tickSize": {"condition": {"test": "abs(datum.value - round(datum.value)) < 0.001", "value": -4}, "value": -2},
                                         "title": "Phase shift ϕ (rad)", "labelPadding": 8.5, "titlePadding": 6}}}},
            {"data": {"name": "lineA"}, "mark": {"type": "line", "color": "#FF8C1A", "strokeWidth": 1.3, "clip": true},
             "encoding": {"x": {"field": "phase", "type": "quantitative", "axis": null},
                          "y": {"field": "power", "type": "quantitative", "scale": {"domain": [-1.74, 82.06], "nice": false, "zero": false},
                                "axis": {"values": [0, 5, 10, 15, 20, 25, 30, 35, 40, 45, 50, 55, 60, 65, 70, 75, 80],
                                         "labelExpr": "datum.value % 20 === 0 ? datum.label : ''", "tickSize": {"condition": {"test": "datum.value % 20 === 0", "value": -4}, "value": -2},
                                         "title": "Electric power applied (mW)", "labelPadding": 6, "titlePadding": 5}}}},
            {"data": {"name": "phA"}, "mark": {"type": "circle", "size": 32, "color": "#FF8C1A", "opacity": 1},
             "encoding": {"x": {"field": "phase", "type": "quantitative", "axis": null}, "y": {"field": "power", "type": "quantitative", "axis": null}}},
            {"data": {"values": [{}]}, "mark": {"type": "point", "opacity": 0},
             "encoding": {
               "x": {"datum": 0, "type": "quantitative", "axis": {"orient": "top", "labels": false, "title": null,
                     "values": [-2.8, -2.6, -2.4, -2.2, -2, -1.8, -1.6, -1.4, -1.2, -1, -0.8, -0.6, -0.4, -0.2, 0, 0.2, 0.4, 0.6, 0.8, 1, 1.2, 1.4, 1.6, 1.8, 2, 2.2, 2.4, 2.6, 2.8],
                     "tickSize": {"condition": {"test": "abs(datum.value - round(datum.value)) < 0.001", "value": -4}, "value": -2}}},
               "y": {"datum": 0, "type": "quantitative", "axis": {"orient": "right", "labels": false, "title": null,
                     "values": [0, 5, 10, 15, 20, 25, 30, 35, 40, 45, 50, 55, 60, 65, 70, 75, 80],
                     "tickSize": {"condition": {"test": "datum.value % 20 === 0", "value": -4}, "value": -2}}}}}
          ]
        },
        {"width": 89.3, "height": 1, "data": {"values": []}, "mark": "point", "view": {"stroke": null}},
        {
          "width": 333.3, "height": 207, "view": {"stroke": "#b8b8b8"},
          "resolve": {"axis": {"x": "independent", "y": "independent"}},
          "layer": [
            {"data": {"values": [{}]}, "mark": {"type": "rule", "color": "#c8c8c8", "strokeWidth": 1},
             "encoding": {"x": {"datum": 0, "type": "quantitative", "scale": {"domain": [-4.84, 1.097], "nice": false, "zero": false},
                                "axis": {"values": [-4.8, -4.6, -4.4, -4.2, -4, -3.8, -3.6, -3.4, -3.2, -3, -2.8, -2.6, -2.4, -2.2, -2, -1.8, -1.6, -1.4, -1.2, -1, -0.8, -0.6, -0.4, -0.2, 0, 0.2, 0.4, 0.6, 0.8, 1],
                                         "labelExpr": "abs(datum.value - round(datum.value)) < 0.001 ? (round(datum.value) < 0 ? '- ' + abs(round(datum.value)) : '' + round(datum.value)) : ''",
                                         "tickSize": {"condition": {"test": "abs(datum.value - round(datum.value)) < 0.001", "value": -4}, "value": -2},
                                         "title": "Phase shift ϕ (rad)", "labelPadding": 8.5, "titlePadding": 6}}}},
            {"data": {"name": "lineB"}, "mark": {"type": "line", "color": "#FF8C1A", "strokeWidth": 1.3, "clip": true},
             "encoding": {"x": {"field": "phase", "type": "quantitative", "axis": null},
                          "y": {"field": "power", "type": "quantitative", "scale": {"domain": [-1.9, 76.6], "nice": false, "zero": false},
                                "axis": {"values": [0, 2, 4, 6, 8, 10, 12, 14, 16, 18, 20, 22, 24, 26, 28, 30, 32, 34, 36, 38, 40, 42, 44, 46, 48, 50, 52, 54, 56, 58, 60, 62, 64, 66, 68, 70, 72, 74, 76],
                                         "labelExpr": "datum.value % 10 === 0 ? datum.label : ''", "tickSize": {"condition": {"test": "datum.value % 10 === 0", "value": -4}, "value": -2},
                                         "title": "Electric power applied (mW)", "labelPadding": 6, "titlePadding": 5}}}},
            {"data": {"name": "phB"}, "mark": {"type": "circle", "size": 32, "color": "#FF8C1A", "opacity": 1},
             "encoding": {"x": {"field": "phase", "type": "quantitative", "axis": null}, "y": {"field": "power", "type": "quantitative", "axis": null}}},
            {"data": {"values": [{}]}, "mark": {"type": "point", "opacity": 0},
             "encoding": {
               "x": {"datum": 0, "type": "quantitative", "axis": {"orient": "top", "labels": false, "title": null,
                     "values": [-4.8, -4.6, -4.4, -4.2, -4, -3.8, -3.6, -3.4, -3.2, -3, -2.8, -2.6, -2.4, -2.2, -2, -1.8, -1.6, -1.4, -1.2, -1, -0.8, -0.6, -0.4, -0.2, 0, 0.2, 0.4, 0.6, 0.8, 1],
                     "tickSize": {"condition": {"test": "abs(datum.value - round(datum.value)) < 0.001", "value": -4}, "value": -2}}},
               "y": {"datum": 0, "type": "quantitative", "axis": {"orient": "right", "labels": false, "title": null,
                     "values": [0, 2, 4, 6, 8, 10, 12, 14, 16, 18, 20, 22, 24, 26, 28, 30, 32, 34, 36, 38, 40, 42, 44, 46, 48, 50, 52, 54, 56, 58, 60, 62, 64, 66, 68, 70, 72, 74, 76],
                     "tickSize": {"condition": {"test": "datum.value % 10 === 0", "value": -4}, "value": -2}}}}}
          ]
        },
        {"width": 85, "height": 1, "data": {"values": []}, "mark": "point", "view": {"stroke": null}},
        {
          "width": 333.4, "height": 207, "view": {"stroke": "#b8b8b8"},
          "resolve": {"axis": {"x": "independent", "y": "independent"}},
          "layer": [
            {"data": {"values": [{}]}, "mark": {"type": "rule", "color": "#c8c8c8", "strokeWidth": 1},
             "encoding": {"x": {"datum": 0, "type": "quantitative", "scale": {"domain": [-4.315, 2.503], "nice": false, "zero": false},
                                "axis": {"values": [-4.2, -4, -3.8, -3.6, -3.4, -3.2, -3, -2.8, -2.6, -2.4, -2.2, -2, -1.8, -1.6, -1.4, -1.2, -1, -0.8, -0.6, -0.4, -0.2, 0, 0.2, 0.4, 0.6, 0.8, 1, 1.2, 1.4, 1.6, 1.8, 2, 2.2, 2.4],
                                         "labelExpr": "abs(datum.value - round(datum.value)) < 0.001 ? (round(datum.value) < 0 ? '- ' + abs(round(datum.value)) : '' + round(datum.value)) : ''",
                                         "tickSize": {"condition": {"test": "abs(datum.value - round(datum.value)) < 0.001", "value": -4}, "value": -2},
                                         "title": "Phase shift ϕ (rad)", "labelPadding": 8.5, "titlePadding": 6}}}},
            {"data": {"name": "lineAz"}, "mark": {"type": "line", "color": "#FF8C1A", "strokeWidth": 1.3, "clip": true},
             "encoding": {"x": {"field": "phase", "type": "quantitative", "axis": null},
                          "y": {"field": "power", "type": "quantitative", "scale": {"domain": [-2.08, 84.17], "nice": false, "zero": false},
                                "axis": {"values": [0, 5, 10, 15, 20, 25, 30, 35, 40, 45, 50, 55, 60, 65, 70, 75, 80],
                                         "labelExpr": "datum.value % 20 === 0 ? datum.label : ''", "tickSize": {"condition": {"test": "datum.value % 20 === 0", "value": -4}, "value": -2},
                                         "title": "Electric power applied (mW)", "labelPadding": 6, "titlePadding": 5}}}},
            {"data": {"name": "phAz"}, "mark": {"type": "circle", "size": 32, "color": "#FF8C1A", "opacity": 1},
             "encoding": {"x": {"field": "phase", "type": "quantitative", "axis": null}, "y": {"field": "power", "type": "quantitative", "axis": null}}},
            {"data": {"values": [{}]}, "mark": {"type": "point", "opacity": 0},
             "encoding": {
               "x": {"datum": 0, "type": "quantitative", "axis": {"orient": "top", "labels": false, "title": null,
                     "values": [-4.2, -4, -3.8, -3.6, -3.4, -3.2, -3, -2.8, -2.6, -2.4, -2.2, -2, -1.8, -1.6, -1.4, -1.2, -1, -0.8, -0.6, -0.4, -0.2, 0, 0.2, 0.4, 0.6, 0.8, 1, 1.2, 1.4, 1.6, 1.8, 2, 2.2, 2.4],
                     "tickSize": {"condition": {"test": "abs(datum.value - round(datum.value)) < 0.001", "value": -4}, "value": -2}}},
               "y": {"datum": 0, "type": "quantitative", "axis": {"orient": "right", "labels": false, "title": null,
                     "values": [0, 5, 10, 15, 20, 25, 30, 35, 40, 45, 50, 55, 60, 65, 70, 75, 80],
                     "tickSize": {"condition": {"test": "datum.value % 20 === 0", "value": -4}, "value": -2}}}}}
          ]
        }
      ]
    }
  ]
}
